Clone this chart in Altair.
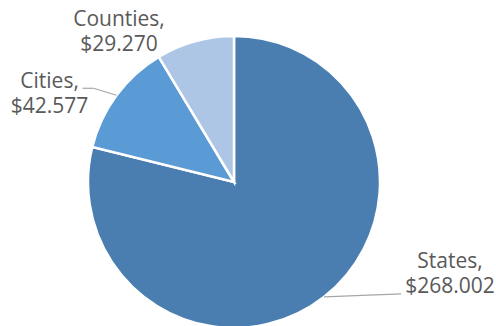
import altair as alt
import pandas as pd

# ---- data ----
categories = ["States", "Cities", "Counties"]
values = [268.002, 42.577, 29.270]
colors = ["#4A7EB0", "#5B9BD5", "#ADC6E6"]

df = pd.DataFrame({
    "category": categories,
    "value": values,
    "order": list(range(len(categories))),
    "label": [f"{c},\n${v:.3f}" for c, v in zip(categories, values)],
})

# ---- layout constants ----
CX, CY, R = 234, 182, 146
# label anchor offsets (first-line baseline, centre) relative to slice edge midpoint
LABEL_OFF = {"States": (126, -29), "Cities": (-67, -7), "Counties": (-76, -15)}
# leader line: elbow and end offsets relative to slice edge midpoint
LEADER = {"States": [(77, -3), (77, -3)], "Cities": [(-23, -7), (-34, -7)]}


def pick(mapping, idx):
    expr = "0"
    for k, v in mapping.items():
        expr = f"datum.category === '{k}' ? {v[idx]} : ({expr})"
    return expr


def pick2(mapping, i, j):
    expr = "0"
    for k, v in mapping.items():
        expr = f"datum.category === '{k}' ? {v[i][j]} : ({expr})"
    return expr


base = alt.Chart(df).transform_window(
    cum="sum(value)", sort=[alt.SortField("order")]
).transform_joinaggregate(
    total="sum(value)"
).transform_calculate(
    mid="2*PI*(datum.cum - datum.value/2)/datum.total"
).transform_calculate(
    ex=f"{CX} + {R}*sin(datum.mid)",
    ey=f"{CY} - {R}*cos(datum.mid)",
)

pie = alt.Chart(df).mark_arc(radius=R, stroke="white", strokeWidth=2.5).encode(
    theta=alt.Theta("value:Q", stack=True),
    order=alt.Order("order:Q"),
    color=alt.Color("category:N", scale=alt.Scale(domain=categories, range=colors), legend=None),
    x=alt.value(CX),
    y=alt.value(CY),
)

labels = base.transform_calculate(
    lx=f"datum.ex + ({pick(LABEL_OFF, 0)})",
    ly=f"datum.ey + ({pick(LABEL_OFF, 1)})",
).mark_text(
    align="center", baseline="alphabetic", lineBreak="\n", lineHeight=25,
    font="Open Sans", fontSize=21, color="#595959",
).encode(
    x=alt.X("lx:Q", scale=None),
    y=alt.Y("ly:Q", scale=None),
    text="label:N",
)

leader_base = base.transform_filter(
    alt.FieldOneOfPredicate(field="category", oneOf=list(LEADER.keys()))
).transform_calculate(
    bx=f"datum.ex + ({pick2(LEADER, 0, 0)})",
    by=f"datum.ey + ({pick2(LEADER, 0, 1)})",
    tx=f"datum.ex + ({pick2(LEADER, 1, 0)})",
    ty=f"datum.ey + ({pick2(LEADER, 1, 1)})",
)

seg1 = leader_base.mark_rule(color="#A6A6A6", strokeWidth=1.2).encode(
    x=alt.X("ex:Q", scale=None), y=alt.Y("ey:Q", scale=None),
    x2="bx:Q", y2="by:Q",
)
seg2 = leader_base.mark_rule(color="#A6A6A6", strokeWidth=1.2).encode(
    x=alt.X("bx:Q", scale=None), y=alt.Y("by:Q", scale=None),
    x2="tx:Q", y2="ty:Q",
)

chart = alt.layer(pie, seg1, seg2, labels).properties(
    width=496, height=326,
    autosize=alt.AutoSizeParams(type="none"),
    padding=0,
).configure_view(stroke=None)

chart.save("out.html", embed_options={"renderer": "svg", "actions": False})
